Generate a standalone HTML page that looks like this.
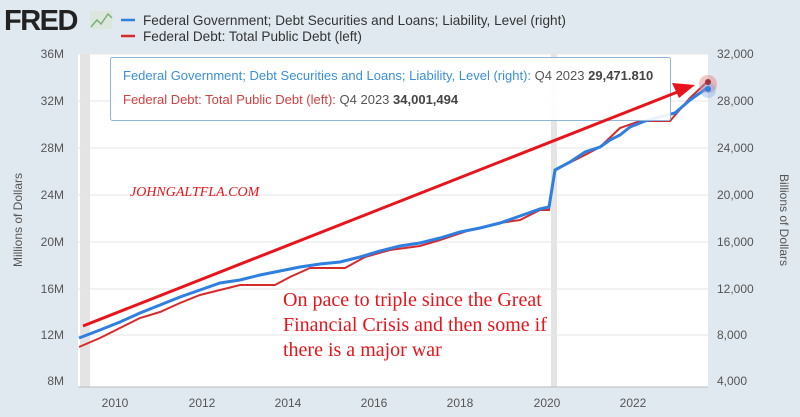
<!DOCTYPE html>
<html><head><style>
body{margin:0;width:800px;height:417px;background:#e1e9f0;font-family:"Liberation Sans",sans-serif;overflow:hidden;position:relative}
</style></head><body>
<svg width="800" height="417" style="position:absolute;left:0;top:0">
<rect x="78" y="54" width="630" height="333" fill="#fff"/>
<rect x="80" y="54" width="10" height="333" fill="#e4e4e4"/>
<rect x="551" y="54" width="6" height="333" fill="#e4e4e4"/>
<g stroke="#e6e6e6" stroke-width="1">
<line x1="78" x2="708" y1="54" y2="54"/><line x1="78" x2="708" y1="101" y2="101"/><line x1="78" x2="708" y1="148" y2="148"/><line x1="78" x2="708" y1="195" y2="195"/><line x1="78" x2="708" y1="242" y2="242"/><line x1="78" x2="708" y1="289" y2="289"/><line x1="78" x2="708" y1="335" y2="335"/>
</g>
<line x1="78" x2="708" y1="387" y2="387" stroke="#bbb"/>
<g font-size="12" fill="#555" text-anchor="end">
<text x="64" y="58">36M</text><text x="64" y="105">32M</text><text x="64" y="152">28M</text><text x="64" y="199">24M</text><text x="64" y="246">20M</text><text x="64" y="293">16M</text><text x="64" y="339">12M</text><text x="64" y="385">8M</text>
</g>
<g font-size="12" fill="#555" text-anchor="start">
<text x="717" y="58">32,000</text><text x="717" y="105">28,000</text><text x="717" y="152">24,000</text><text x="717" y="199">20,000</text><text x="717" y="246">16,000</text><text x="717" y="293">12,000</text><text x="717" y="339">8,000</text><text x="717" y="385">4,000</text>
</g>
<g font-size="12" fill="#555" text-anchor="middle">
<text x="115" y="407">2010</text><text x="202" y="407">2012</text><text x="288" y="407">2014</text><text x="374" y="407">2016</text><text x="460" y="407">2018</text><text x="547" y="407">2020</text><text x="633" y="407">2022</text>
</g>
<text transform="translate(22,220) rotate(-90)" font-size="12" fill="#555" text-anchor="middle">Millions of Dollars</text>
<text transform="translate(780,220) rotate(90)" font-size="12" fill="#555" text-anchor="middle">Billions of Dollars</text>
<polyline fill="none" stroke="#d62b2b" stroke-width="2" points="79,347 100,338 120,328 140,318 160,312 180,303 200,295 220,290 240,285 260,285 275,285 290,277 310,268 345,268 365,257 390,250 420,246 440,240 470,230 500,223 520,220 540,210 549,210 555,170 585,155 600,147 620,128 640,121 670,121 690,98 707,82"/>
<polyline fill="none" stroke="#2e7fe0" stroke-width="3" points="79,338 100,330 120,322 140,313 160,305 180,297 200,290 220,283 240,280 260,275 280,271 300,267 320,264 340,262 360,257 380,251 400,246 420,243 440,238 460,232 480,228 500,223 520,216 540,209 549,207 555,170 570,162 585,152 600,147 610,140 620,135 630,127 645,121 660,117 675,113 690,100 707,88"/>
<circle cx="708" cy="84" r="9" fill="#e07070" opacity="0.4"/>
<circle cx="708" cy="90" r="8" fill="#70a0e0" opacity="0.35"/>
<circle cx="708" cy="82" r="3" fill="#a03040"/>
<circle cx="708" cy="89" r="3" fill="#2e7fe0"/>
<rect x="110.5" y="57.5" width="560" height="63" fill="#fff" fill-opacity="0.9" stroke="#8fb6dc" rx="2"/>
<text x="123" y="80" font-size="13" fill="#3a8fd8">Federal Government; Debt Securities and Loans; Liability, Level (right):<tspan fill="#555">  Q4 2023 </tspan><tspan fill="#444" font-weight="bold">29,471.810</tspan></text>
<text x="123" y="104" font-size="13" fill="#d04040">Federal Debt: Total Public Debt (left):<tspan fill="#555">  Q4 2023 </tspan><tspan fill="#444" font-weight="bold">34,001,494</tspan></text>
<line x1="83" y1="326" x2="680" y2="91" stroke="#e8141b" stroke-width="3"/>
<polygon points="695,85 672,83 679,98" fill="#e8141b"/>
<text x="130" y="196" font-family="Liberation Serif,serif" font-style="italic" font-size="14" fill="#e8141b">JOHNGALTFLA.COM</text>
<g font-family="Liberation Serif,serif" font-size="20" fill="#e8141b">
<text x="283" y="306">On pace to triple since the Great</text>
<text x="283" y="331">Financial Crisis and then some if</text>
<text x="283" y="356">there is a major war</text>
</g>
<text x="4" y="30" font-size="29" font-weight="bold" fill="#222" letter-spacing="-1.5">FRED</text>
<rect x="90" y="11" width="22" height="18" fill="#dde6dd"/>
<polyline points="91,27 97,20 101,24 108,14 112,18" fill="none" stroke="#7ab07a" stroke-width="1.5"/>
<line x1="121" y1="20" x2="135" y2="20" stroke="#2e7fe0" stroke-width="2.5"/>
<line x1="121" y1="36" x2="135" y2="36" stroke="#d62b2b" stroke-width="2.5"/>
<text x="143" y="25" font-size="13.6" fill="#333">Federal Government; Debt Securities and Loans; Liability, Level (right)</text>
<text x="143" y="41" font-size="13.6" fill="#333">Federal Debt: Total Public Debt (left)</text>
</svg>
</body></html>
